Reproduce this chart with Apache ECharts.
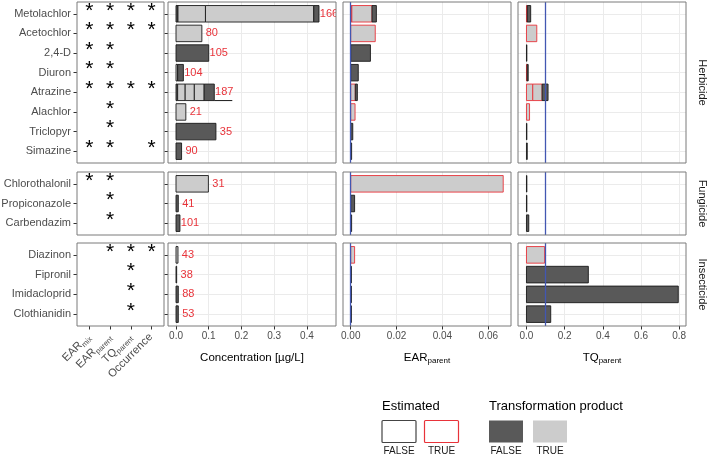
<!DOCTYPE html>
<html><head><meta charset="utf-8">
<script src="https://cdn.jsdelivr.net/npm/echarts@6/dist/echarts.min.js"></script>
<style>html,body{margin:0;padding:0;background:#fff}#c{width:708px;height:456px}</style>
</head><body><div id="c"></div>
<script>
// ---------------- data ----------------
const herbicides = ['Metolachlor','Acetochlor','2,4-D','Diuron','Atrazine','Alachlor','Triclopyr','Simazine'];
const fungicides = ['Chlorothalonil','Propiconazole','Carbendazim'];
const insecticides = ['Diazinon','Fipronil','Imidacloprid','Clothianidin'];
const groupNames = ['Herbicide','Fungicide','Insecticide'];
const starColumns = [['EAR','mix'],['EAR','parent'],['TQ','parent'],['Occurrence','']];

const starsHerbicide = [[1,1,1,1],[1,1,1,1],[1,1,0,0],[1,1,0,0],[1,1,1,1],[0,1,0,0],[0,1,0,0],[1,1,0,1]];
const starsFungicide = [[1,1,0,0],[0,1,0,0],[0,1,0,0]];
const starsInsecticide = [[0,1,1,1],[0,0,1,0],[0,0,1,0],[0,0,1,0]];

// stacked segments per compound: [cumulative end, transformation product (1/0), estimated (1/0)]
const concHerbicide = [
  [[0.006,0,0],[0.090,1,0],[0.421,1,0],[0.437,0,0]],
  [[0.079,1,0]],
  [[0.100,0,0]],
  [[0.005,1,0],[0.0225,0,0]],
  [[0.005,0,0],[0.028,1,0],[0.056,1,0],[0.086,1,0],[0.117,0,0]],
  [[0.030,1,0]],
  [[0.122,0,0]],
  [[0.017,0,0]]
];
const concFungicide = [[[0.099,1,0]],[[0.007,0,0]],[[0.012,0,0]]];
const concInsecticide = [[[0.006,1,0]],[[0.002,0,0]],[[0.007,0,0]],[[0.007,0,0]]];
const detectHerbicide = [166,80,105,104,187,21,35,90];
const detectFungicide = [31,41,101];
const detectInsecticide = [43,38,88,53];
const concWhisker = [['Atrazine',0.117,0.172]];

const earHerbicide = [
  [[0.0005,0,1],[0.0093,1,1],[0.0112,0,0]],
  [[0.0107,1,1]],
  [[0.0086,0,0]],
  [[0.0033,0,0]],
  [[0.0020,1,1],[0.0029,0,0]],
  [[0.0019,1,1]],
  [[0.0009,0,0]],
  [[0.0004,0,0]]
];
const earFungicide = [[[0.0665,1,1]],[[0.0017,0,0]],[[0.0004,0,0]]];
const earInsecticide = [[[0.0017,1,1]],[[0.0003,0,0]],[[0.0003,0,0]],[[0.0003,0,0]]];

const tqHerbicide = [
  [[0.004,0,1],[0.022,0,0]],
  [[0.054,1,1]],
  [[0.002,0,0]],
  [[0.003,0,1],[0.009,0,0]],
  [[0.033,1,1],[0.082,1,1],[0.113,0,0]],
  [[0.016,1,1]],
  [[0.002,0,0]],
  [[0.004,0,0]]
];
const tqFungicide = [[[0.002,0,0]],[[0.002,0,0]],[[0.012,0,0]]];
const tqInsecticide = [[[0.095,1,1]],[[0.324,0,0]],[[0.795,0,0]],[[0.127,0,0]]];

const earThreshold = 0.001;
const tqThreshold = 0.1;
const concTicks = [0,0.1,0.2,0.3,0.4];
const earTicks = [0,0.02,0.04,0.06];
const tqTicks = [0,0.2,0.4,0.6,0.8];

// ---------------- layout / style ----------------
const FONT = 'Liberation Sans, Arial, sans-serif';
const LIGHT = '#cccccc', DARK = '#595959', RED = '#e8333a', EDGE = '#1a1a1a', BLUE = '#4257b2';
const GRIDC = '#ebebeb', BORDER = '#7a7a7a', TXT = '#4d4d4d';
const cols = [[77,164],[168,336],[343,511],[518,686]];
const rows = [[2,163],[172,235],[243,326]];
const xRanges = [[-0.6,3.6],[-0.0245,0.489],[-0.00336,0.0699],[-0.0444,0.8355]];
const xTickSets = [[0,1,2,3], concTicks, earTicks, tqTicks];
const xDigits = [0,1,2,1];

const groups = [
  {names: herbicides, stars: starsHerbicide, conc: concHerbicide, n: detectHerbicide, ear: earHerbicide, tq: tqHerbicide},
  {names: fungicides, stars: starsFungicide, conc: concFungicide, n: detectFungicide, ear: earFungicide, tq: tqFungicide},
  {names: insecticides, stars: starsInsecticide, conc: concInsecticide, n: detectInsecticide, ear: earInsecticide, tq: tqInsecticide}
];

function flatSegs(list) {
  const out = [];
  list.forEach((segs, i) => {
    let start = 0;
    segs.forEach(s => { out.push([i, start, s[0], s[1], s[2]]); start = s[0]; });
  });
  return out;
}
function barRender(params, api) {
  const cat = api.value(0), s = api.value(1), e = api.value(2), tp = api.value(3), est = api.value(4);
  const a = api.coord([s, cat]), b = api.coord([e, cat]);
  const h = Math.abs(api.size([0, 1])[1]) * 0.84;
  return {type: 'rect', shape: {x: a[0], y: a[1] - h / 2, width: b[0] - a[0], height: h},
    style: {fill: tp ? LIGHT : DARK, stroke: est ? RED : EDGE, lineWidth: 0.9}};
}
function gridMarkLine(xs, n) {
  const data = xs.map(v => ({xAxis: v}));
  for (let i = 0; i < n; i++) data.push({yAxis: i});
  return {silent: true, symbol: ['none','none'], label: {show: false}, z: 1, animation: false,
    lineStyle: {color: GRIDC, width: 1, type: 'solid'}, emphasis: {disabled: true}, data: data};
}
function sub(a, b) { return b ? '{a|' + a + '}{s|' + b + '}' : '{a|' + a + '}'; }

const grids = [], xAxes = [], yAxes = [], series = [];
rows.forEach((ry, r) => {
  const g = groups[r];
  const n = g.names.length;
  cols.forEach((cx, c) => {
    const gi = r * 4 + c;
    grids.push({left: cx[0], top: ry[0], width: cx[1] - cx[0], height: ry[1] - ry[0],
      show: true, borderColor: BORDER, borderWidth: 1, backgroundColor: 'transparent', z: 10,
      containLabel: false, outerBoundsMode: 'none'});
    const bottom = r === 2;
    const xa = {type: 'value', gridIndex: gi, min: xRanges[c][0], max: xRanges[c][1], position: 'bottom',
      axisLine: {show: false, onZero: false}, splitLine: {show: false},
      axisTick: {show: bottom, length: 3.5, lineStyle: {color: '#333'}, customValues: xTickSets[c]},
      axisLabel: {show: bottom, customValues: xTickSets[c], margin: 5, color: TXT, fontSize: 10, fontFamily: FONT,
        formatter: v => v.toFixed(xDigits[c])}};
    if (c === 0) {
      xa.axisLabel = {show: bottom, customValues: [0,1,2,3], rotate: 45, margin: 10, color: TXT, fontFamily: FONT,
        formatter: v => sub(starColumns[Math.round(v)][0], starColumns[Math.round(v)][1]),
        rich: {a: {fontSize: 11.2, color: TXT, fontFamily: FONT, lineHeight: 13, verticalAlign: 'top'},
               s: {fontSize: 7.5, color: TXT, fontFamily: FONT, lineHeight: 8, padding: [6,0,0,0], verticalAlign: 'bottom'}}};
    }
    if (bottom && c > 0) {
      xa.nameLocation = 'middle';
      xa.nameGap = 26;
      xa.name = c === 1 ? '{a|Concentration [µg/L]}' : (c === 2 ? sub('EAR','parent') : sub('TQ','parent'));
      xa.nameTextStyle = {rich: {a: {fontSize: 11.5, color: '#000', fontFamily: FONT, lineHeight: 13, verticalAlign: 'top'},
        s: {fontSize: 8, color: '#000', fontFamily: FONT, lineHeight: 8, padding: [6,0,0,0], verticalAlign: 'bottom'}}};
    }
    xAxes.push(xa);
    const ticks = []; for (let i = 0; i < n; i++) ticks.push(i);
    yAxes.push({type: 'value', gridIndex: gi, min: -0.6, max: n - 0.4, inverse: true, position: 'left',
      axisLine: {show: false, onZero: false}, splitLine: {show: false},
      axisTick: {show: c <= 1, length: 3.5, lineStyle: {color: '#333'}, customValues: ticks},
      axisLabel: {show: c === 0, customValues: ticks, margin: 6, color: TXT, fontSize: 11, fontFamily: FONT,
        formatter: v => g.names[Math.round(v)] || ''}});

    if (c === 0) {
      const data = [];
      g.stars.forEach((row, i) => row.forEach((s, j) => { if (s) data.push([j, i]); }));
      series.push({type: 'custom', xAxisIndex: gi, yAxisIndex: gi, z: 3, silent: true, animation: false,
        encode: {x: 0, y: 1}, data: data,
        renderItem: (p, api) => {
          const pt = api.coord([api.value(0), api.value(1)]);
          return {type: 'text', x: pt[0], y: pt[1] - 3, style: {text: '*', fontSize: 21, fontFamily: FONT,
            fill: '#000', align: 'center', verticalAlign: 'middle'}};
        }});
    } else {
      const segs = c === 1 ? g.conc : (c === 2 ? g.ear : g.tq);
      series.push({type: 'custom', xAxisIndex: gi, yAxisIndex: gi, z: 3, silent: true, animation: false,
        clip: true, encode: {x: [1, 2], y: 0}, data: flatSegs(segs), renderItem: barRender,
        markLine: gridMarkLine(xTickSets[c], n)});
      if (c === 1) {
        const lab = segs.map((sg, i) => [i, sg[sg.length - 1][0], g.n[i]]);
        series.push({type: 'custom', xAxisIndex: gi, yAxisIndex: gi, z: 4, silent: true, animation: false,
          clip: true, encode: {x: 1, y: 0}, data: lab,
          renderItem: (p, api) => {
            const pt = api.coord([api.value(1), api.value(0)]);
            return {type: 'text', x: pt[0] + 10, y: pt[1], style: {text: String(api.value(2)), fontSize: 11,
              fontFamily: FONT, fill: RED, align: 'center', verticalAlign: 'middle'}};
          }});
        const wk = concWhisker.filter(w => g.names.indexOf(w[0]) >= 0).map(w => [g.names.indexOf(w[0]), w[1], w[2]]);
        if (wk.length) {
          series.push({type: 'custom', xAxisIndex: gi, yAxisIndex: gi, z: 4, silent: true, animation: false,
            encode: {x: [1, 2], y: 0}, data: wk,
            renderItem: (p, api) => {
              const a = api.coord([api.value(1), api.value(0)]), b = api.coord([api.value(2), api.value(0)]);
              const h = Math.abs(api.size([0, 1])[1]) * 0.84;
              return {type: 'line', shape: {x1: a[0], y1: a[1] + h / 2, x2: b[0], y2: b[1] + h / 2},
                style: {stroke: EDGE, lineWidth: 1}};
            }});
        }
      } else {
        const thr = c === 2 ? earThreshold : tqThreshold;
        series.push({type: 'custom', xAxisIndex: gi, yAxisIndex: gi, z: 6, silent: true, animation: false,
          encode: {x: 0, y: 1}, data: [[thr, 0]], renderItem: () => ({type: 'group', children: []}),
          markLine: {silent: true, symbol: ['none','none'], label: {show: false}, z: 8, animation: false,
            lineStyle: {color: BLUE, width: 1.3, type: 'solid'}, emphasis: {disabled: true},
            data: [{xAxis: thr}]}});
      }
    }
  });
});

// strip labels and legend
const graphics = [];
rows.forEach((ry, r) => {
  graphics.push({type: 'text', x: 702, y: (ry[0] + ry[1]) / 2, rotation: -Math.PI / 2,
    style: {text: groupNames[r], fontSize: 11, fontFamily: FONT, fill: '#1a1a1a', align: 'center', verticalAlign: 'middle'}});
});
const legendY = 420.5, keyW = 34, keyH = 22;
graphics.push({type: 'text', x: 382, y: 406, style: {text: 'Estimated', fontSize: 13, fontFamily: FONT, fill: '#000', align: 'left', verticalAlign: 'middle'}});
graphics.push({type: 'text', x: 489, y: 406, style: {text: 'Transformation product', fontSize: 13, fontFamily: FONT, fill: '#000', align: 'left', verticalAlign: 'middle'}});
[[382, '#444', 'FALSE'], [424.5, RED, 'TRUE']].forEach(k => {
  graphics.push({type: 'rect', shape: {x: k[0], y: legendY, width: keyW, height: keyH, r: 1}, style: {fill: '#fff', stroke: k[1], lineWidth: 1.2}});
  graphics.push({type: 'text', x: k[0] + keyW / 2, y: 451, style: {text: k[2], fontSize: 10, fontFamily: FONT, fill: '#1a1a1a', align: 'center', verticalAlign: 'middle'}});
});
[[489, DARK, 'FALSE'], [533, LIGHT, 'TRUE']].forEach(k => {
  graphics.push({type: 'rect', shape: {x: k[0], y: legendY, width: keyW, height: keyH}, style: {fill: k[1]}});
  graphics.push({type: 'text', x: k[0] + keyW / 2, y: 451, style: {text: k[2], fontSize: 10, fontFamily: FONT, fill: '#1a1a1a', align: 'center', verticalAlign: 'middle'}});
});

const chart = echarts.init(document.getElementById('c'), null, {renderer: 'canvas'});
chart.setOption({
  animation: false,
  textStyle: {fontFamily: FONT},
  grid: grids, xAxis: xAxes, yAxis: yAxes, series: series, graphic: graphics
});
</script></body></html>
